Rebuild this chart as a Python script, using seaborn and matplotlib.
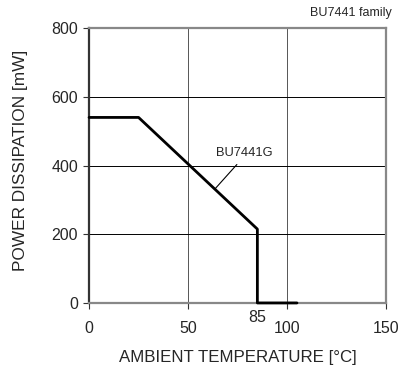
import numpy as np
import pandas as pd
import matplotlib
matplotlib.use("Agg")
import matplotlib.pyplot as plt
import seaborn as sns

# derating curve
temp = [0, 25, 85, 85, 105]
power = [540, 540, 215, 0, 0]
x_ticks = [0, 50, 100, 150]
y_ticks = [0, 200, 400, 600, 800]

sns.set_style("white")
plt.rcParams['font.family'] = ['Liberation Sans', 'DejaVu Sans']

df = pd.DataFrame({'temp': temp, 'power': power})

fig = plt.figure(figsize=(4.03, 3.65), dpi=100)
ax = fig.add_axes([0.221, 0.170, 0.737, 0.753])

ax.grid(True, axis='x', color='#555555', lw=0.7)
ax.grid(True, axis='y', color='#000000', lw=0.7)
ax.set_axisbelow(True)

sns.lineplot(data=df, x='temp', y='power', sort=False, estimator=None,
             color='black', lw=2, ax=ax, zorder=3, clip_on=False)

ax.set_xlim(0, 150)
ax.set_ylim(0, 800)
ax.set_xticks(x_ticks)
ax.set_yticks(y_ticks)
ax.tick_params(axis='both', direction='out', length=4, width=0.8, color='#333333',
               labelsize=11.5, bottom=True, left=True)
ax.tick_params(axis='x', pad=9)
ax.tick_params(axis='y', pad=4)
for s in ['top', 'right', 'bottom']:
    ax.spines[s].set_color('#888888')
    ax.spines[s].set_linewidth(1.6)
ax.spines['left'].set_color('#333333')
ax.spines['left'].set_linewidth(1.6)

ax.set_xlabel('AMBIENT TEMPERATURE [°C]', fontsize=12.2, labelpad=10)
ax.set_ylabel('POWER DISSIPATION [mW]', fontsize=12.4)
ax.yaxis.set_label_coords(-0.205, 0.52)

ax.text(85, -20, '85', ha='center', va='top', fontsize=11.5)
ax.annotate('BU7441G', xy=(63.6, 332), xytext=(78.5, 436), ha='center', va='center',
            fontsize=9.3, arrowprops=dict(arrowstyle='-', color='black', lw=0.8,
                                          relpos=(0.45, 0.0), shrinkA=2, shrinkB=0))
fig.text(0.972, 0.948, 'BU7441 family', ha='right', va='bottom', fontsize=9)

fig.savefig('out.png', dpi=100)
